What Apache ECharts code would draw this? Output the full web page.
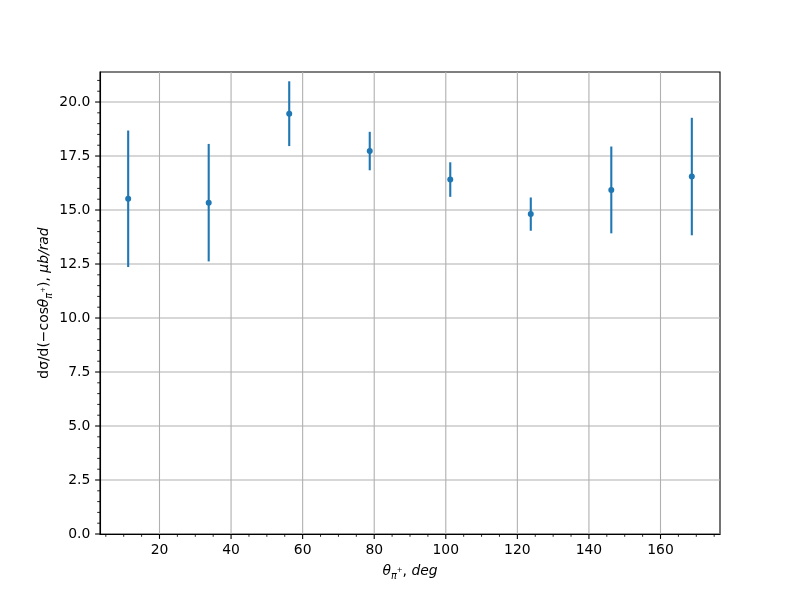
<!DOCTYPE html>
<html>
<head>
<meta charset="utf-8">
<script src="https://cdn.jsdelivr.net/npm/echarts@6/dist/echarts.min.js"></script>
<style>html,body{margin:0;padding:0;background:#fff}#c{width:800px;height:600px}</style>
</head>
<body>
<div id="c"></div>
<script>
// ---- data ----
const xVals = [11.25, 33.75, 56.25, 78.75, 101.25, 123.75, 146.25, 168.75];
const yVals = [15.52, 15.34, 19.46, 17.73, 16.41, 14.81, 15.93, 16.55];
const yErr  = [3.16, 2.72, 1.50, 0.89, 0.80, 0.77, 2.01, 2.72];

const xMajorTicks = [20, 40, 60, 80, 100, 120, 140, 160];
const xMinorTicks = [5, 10, 15, 25, 30, 35, 45, 50, 55, 65, 70, 75, 85, 90, 95,
  105, 110, 115, 125, 130, 135, 145, 150, 155, 165, 170, 175];
const yMajorTicks = [0, 2.5, 5, 7.5, 10, 12.5, 15, 17.5, 20];
const yMinorTicks = [0.5, 1, 1.5, 2, 3, 3.5, 4, 4.5, 5.5, 6, 6.5, 7, 8, 8.5, 9, 9.5,
  10.5, 11, 11.5, 12, 13, 13.5, 14, 14.5, 15.5, 16, 16.5, 17, 18, 18.5, 19, 19.5, 20.5, 21];

const X_MIN = 3.375, X_MAX = 176.625, Y_MIN = 0, Y_MAX = 21.39;

const pointData = xVals.map((x, i) => [x, yVals[i]]);
const errData = xVals.map((x, i) => [x, yVals[i] - yErr[i], yVals[i] + yErr[i]]);

const COLOR = '#1f77b4';
const FONT = 'DejaVu Sans';
const FS = 13.9;

const richName = {
  n: { fontFamily: FONT, fontSize: FS, color: '#000', lineHeight: 20 },
  it: { fontFamily: FONT, fontSize: FS, fontStyle: 'italic', color: '#000', lineHeight: 20 },
  sub: { fontFamily: FONT, fontSize: 9.7, fontStyle: 'italic', color: '#000', lineHeight: 10, verticalAlign: 'bottom', padding: [0, 0, 0, 0] },
  sup: { fontFamily: FONT, fontSize: 7, color: '#000', lineHeight: 8, verticalAlign: 'middle', padding: [0, 0, 2, 0] }
};

const chart = echarts.init(document.getElementById('c'), null, { renderer: 'canvas' });

function vGrid(params, api) {
  const cs = params.coordSys;
  const p = api.coord([api.value(0), Y_MIN]);
  return { type: 'line', shape: { x1: p[0], y1: cs.y, x2: p[0], y2: cs.y + cs.height },
    style: { stroke: '#b0b0b0', lineWidth: 1.1 } };
}
function hGrid(params, api) {
  const cs = params.coordSys;
  const p = api.coord([X_MIN, api.value(0)]);
  return { type: 'line', shape: { x1: cs.x, y1: p[1], x2: cs.x + cs.width, y2: p[1] },
    style: { stroke: '#b0b0b0', lineWidth: 1.1 } };
}
function xTick(len, w) {
  return function (params, api) {
    const cs = params.coordSys;
    const p = api.coord([api.value(0), Y_MIN]);
    const y0 = cs.y + cs.height;
    return { type: 'line', shape: { x1: p[0], y1: y0, x2: p[0], y2: y0 + len },
      style: { stroke: '#000', lineWidth: w } };
  };
}
function yTick(len, w) {
  return function (params, api) {
    const cs = params.coordSys;
    const p = api.coord([X_MIN, api.value(0)]);
    return { type: 'line', shape: { x1: cs.x - len, y1: p[1], x2: cs.x, y2: p[1] },
      style: { stroke: '#000', lineWidth: w } };
  };
}

const option = {
  backgroundColor: '#fff',
  animation: false,
  grid: { left: 100, right: 80, top: 72, bottom: 66, show: true, borderColor: '#000', borderWidth: 1.1, backgroundColor: 'transparent' },
  xAxis: {
    type: 'value', min: X_MIN, max: X_MAX, minInterval: 20, maxInterval: 20, z: 10,
    axisLine: { show: true, onZero: false, lineStyle: { color: '#000', width: 1.1 } },
    axisTick: { show: false },
    splitLine: { show: false },
    axisLabel: {
      margin: 9.7, color: '#000', fontFamily: FONT, fontSize: FS,
      formatter: v => (Math.abs(v % 20) < 1e-6 ? String(v) : '')
    },
    name: '{it|θ}{sub|π}{sup|+}{n|, }{it|deg}',
    nameLocation: 'middle', nameGap: 27, nameMoveOverlap: false,
    nameTextStyle: { rich: richName }
  },
  yAxis: {
    type: 'value', min: Y_MIN, max: Y_MAX, interval: 2.5, z: 10,
    axisLine: { show: true, onZero: false, lineStyle: { color: '#000', width: 1.1 } },
    axisTick: { show: false },
    splitLine: { show: false },
    axisLabel: {
      margin: 9.7, color: '#000', fontFamily: FONT, fontSize: FS,
      formatter: v => (Math.abs((v / 2.5) - Math.round(v / 2.5)) < 1e-6 ? v.toFixed(1) : '')
    },
    name: '{n|dσ/d(−cos}{it|θ}{sub|π}{sup|+}{n|), }{it|μb/rad}',
    nameLocation: 'middle', nameGap: 46, nameRotate: 90, nameMoveOverlap: false,
    nameTextStyle: { rich: richName }
  },
  series: [
    { type: 'custom', z: 1, silent: true, data: xMajorTicks.map(v => [v]), renderItem: vGrid },
    { type: 'custom', z: 1, silent: true, data: yMajorTicks.map(v => [v]), renderItem: hGrid },
    { type: 'custom', z: 1, silent: true, data: xMajorTicks.map(v => [v]), renderItem: xTick(4.9, 1.1) },
    { type: 'custom', z: 1, silent: true, data: xMinorTicks.map(v => [v]), renderItem: xTick(2.8, 0.85) },
    { type: 'custom', z: 1, silent: true, data: yMajorTicks.map(v => [v]), renderItem: yTick(4.9, 1.1) },
    { type: 'custom', z: 1, silent: true, data: yMinorTicks.map(v => [v]), renderItem: yTick(2.8, 0.85) },
    {
      type: 'custom', z: 3, data: errData,
      renderItem: function (params, api) {
        const lo = api.coord([api.value(0), api.value(1)]);
        const hi = api.coord([api.value(0), api.value(2)]);
        return { type: 'line', shape: { x1: lo[0], y1: lo[1], x2: hi[0], y2: hi[1] },
          style: { stroke: COLOR, lineWidth: 2.1 } };
      }
    },
    {
      type: 'scatter', z: 4, data: pointData, symbol: 'circle', symbolSize: 6,
      itemStyle: { color: COLOR, opacity: 1 }
    }
  ]
};
chart.setOption(option);
</script>
</body>
</html>
